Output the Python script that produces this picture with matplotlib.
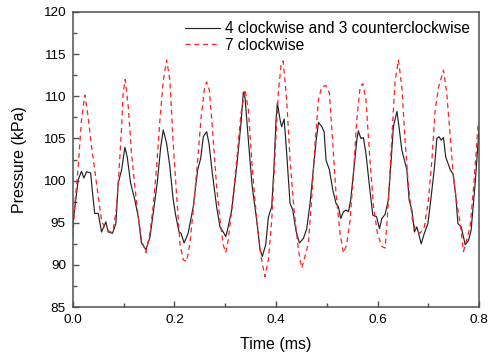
import numpy as np
import matplotlib
matplotlib.use('Agg')
import matplotlib.pyplot as plt
from matplotlib.ticker import MultipleLocator

plt.rcParams['font.family'] = ['Liberation Sans', 'DejaVu Sans']

# ── Data ─────────────────────────────────────────────────────────────────
# 4 clockwise and 3 counterclockwise (black solid)
t_mixed = [0.000, 0.0105, 0.017, 0.0217, 0.027, 0.035, 0.0388, 0.043, 0.050,
           0.0565, 0.065, 0.0696, 0.078, 0.0847, 0.0893, 0.096, 0.1025, 0.107,
           0.1137, 0.122, 0.1287, 0.135, 0.144, 0.152, 0.158, 0.166, 0.173,
           0.178, 0.1846, 0.191, 0.197, 0.202, 0.209, 0.213, 0.219, 0.227,
           0.237, 0.2457, 0.2516, 0.2568, 0.2634, 0.268, 0.2745, 0.283, 0.2897,
           0.296, 0.301, 0.305, 0.3127, 0.3225, 0.331, 0.3356, 0.339, 0.3455,
           0.353, 0.362, 0.3685, 0.373, 0.3797, 0.385, 0.3915, 0.396, 0.400,
           0.4026, 0.408, 0.411, 0.416, 0.421, 0.4276, 0.433, 0.439, 0.446,
           0.454, 0.4605, 0.467, 0.4735, 0.479, 0.4836, 0.490, 0.4946, 0.4985,
           0.505, 0.5117, 0.518, 0.5228, 0.5275, 0.5326, 0.538, 0.5425, 0.547,
           0.5537, 0.559, 0.562, 0.567, 0.572, 0.577, 0.584, 0.5905, 0.598,
           0.6036, 0.6083, 0.6148, 0.621, 0.6266, 0.631, 0.638, 0.642, 0.6477,
           0.6575, 0.662, 0.6674, 0.6725, 0.677, 0.680, 0.6857, 0.692, 0.699,
           0.7054, 0.712, 0.7166, 0.721, 0.725, 0.7297, 0.734, 0.743, 0.749,
           0.754, 0.758, 0.7645, 0.7724, 0.779, 0.784, 0.792, 0.800]
p_mixed = [94.9, 100.1, 101.1, 100.3, 101.05, 100.9, 98.5, 96.1, 96.1,
           93.9, 95.1, 93.9, 93.75, 94.9, 99.7, 101.3, 103.95, 102.8,
           99.7, 97.7, 95.7, 92.6, 91.8, 93.35, 96.1, 99.7, 104.0,
           106.0, 104.4, 101.65, 98.0, 96.0, 93.9, 93.75, 92.6, 93.75,
           96.9, 101.3, 102.6, 105.2, 105.8, 104.4, 100.9, 96.9, 94.5,
           93.9, 93.35, 94.3, 96.5, 101.65, 106.8, 110.5, 109.8, 104.8,
           99.3, 95.3, 91.8, 91.0, 92.4, 95.7, 96.9, 101.65, 107.2,
           109.2, 107.2, 106.4, 107.3, 103.2, 97.3, 96.5, 94.1, 92.6,
           93.15, 94.3, 97.3, 101.3, 104.8, 106.9, 106.4, 105.8, 102.4,
           101.3, 98.9, 97.3, 96.9, 95.5, 96.3, 96.5, 96.3, 97.7,
           101.65, 104.8, 105.9, 105.0, 105.1, 103.2, 99.3, 95.9, 95.7,
           94.3, 95.5, 96.0, 97.7, 102.4, 106.4, 108.2, 106.4, 103.6,
           101.3, 97.7, 96.5, 93.9, 94.5, 93.9, 92.5, 93.75, 94.9,
           98.1, 101.65, 105.0, 105.2, 104.8, 105.1, 102.8, 101.3, 100.7,
           98.1, 94.9, 94.5, 92.4, 92.9, 94.1, 99.7, 106.4]

# 7 clockwise (red dashed)
t_cw = [0.000, 0.004, 0.0105, 0.017, 0.0236, 0.030, 0.0368, 0.043, 0.050,
        0.0565, 0.063, 0.073, 0.0795, 0.086, 0.091, 0.096, 0.099, 0.103,
        0.109, 0.1156, 0.122, 0.1287, 0.135, 0.1438, 0.1517, 0.158, 0.165,
        0.1714, 0.178, 0.1846, 0.191, 0.1976, 0.204, 0.211, 0.2173, 0.224,
        0.2305, 0.237, 0.2457, 0.252, 0.2587, 0.2634, 0.2686, 0.2745, 0.283,
        0.2897, 0.296, 0.301, 0.306, 0.3127, 0.3225, 0.331, 0.339, 0.3455,
        0.353, 0.362, 0.3704, 0.378, 0.385, 0.3915, 0.398, 0.4045, 0.410,
        0.414, 0.421, 0.4276, 0.4355, 0.444, 0.4506, 0.457, 0.4637, 0.470,
        0.4768, 0.4834, 0.490, 0.498, 0.505, 0.5117, 0.518, 0.526, 0.5326,
        0.539, 0.5458, 0.552, 0.559, 0.5655, 0.5708, 0.577, 0.584, 0.592,
        0.5996, 0.608, 0.6148, 0.621, 0.628, 0.6345, 0.641, 0.6477, 0.654,
        0.6607, 0.6686, 0.675, 0.6837, 0.692, 0.700, 0.7068, 0.7133, 0.720,
        0.7297, 0.736, 0.743, 0.749, 0.756, 0.7626, 0.769, 0.7757, 0.782,
        0.789, 0.7975, 0.800]
p_cw = [93.35, 97.3, 101.65, 107.2, 110.15, 107.6, 104.0, 101.3, 98.1,
        95.3, 94.3, 93.9, 94.1, 96.9, 101.3, 106.4, 110.4, 112.0,
        108.8, 103.2, 99.3, 95.7, 93.0, 91.45, 93.75, 96.9, 101.65,
        107.2, 111.9, 114.3, 111.9, 104.4, 98.5, 92.4, 90.6, 90.4,
        92.6, 96.5, 102.4, 107.2, 110.75, 111.7, 110.75, 106.4, 99.3,
        95.3, 92.4, 91.45, 93.0, 96.5, 102.4, 108.0, 110.8, 108.4,
        101.65, 95.3, 91.0, 88.6, 90.6, 95.3, 103.2, 110.4, 113.8,
        114.2, 109.6, 102.4, 96.5, 91.8, 89.6, 91.0, 92.6, 97.7,
        104.4, 109.6, 111.1, 111.3, 110.4, 104.4, 98.5, 93.75, 91.4,
        92.4, 95.3, 100.5, 107.2, 111.1, 111.5, 109.6, 103.2, 96.9,
        93.75, 92.2, 92.0, 97.3, 105.2, 111.9, 114.3, 111.1, 104.8,
        99.3, 95.3, 94.1, 93.75, 94.5, 97.7, 102.4, 108.4, 111.1,
        113.1, 110.4, 105.2, 100.5, 97.3, 94.9, 91.6, 93.0, 94.5,
        99.3, 106.4, 107.0]

labels = ['4 clockwise and 3 counterclockwise', '7 clockwise']

fig = plt.figure(figsize=(4.89, 3.56), dpi=100)
ax = fig.add_axes([0.149, 0.1376, 0.831, 0.8287])

ax.plot(t_mixed, p_mixed, color='#222222', lw=0.85, label=labels[0])
ax.plot(t_cw, p_cw, color='#ff2020', lw=0.9, ls=(0, (4, 3)), label=labels[1])

ax.set_xlim(0.0, 0.8)
ax.set_ylim(85, 120)
ax.xaxis.set_major_locator(MultipleLocator(0.2))
ax.xaxis.set_minor_locator(MultipleLocator(0.1))
ax.yaxis.set_major_locator(MultipleLocator(5))
ax.yaxis.set_minor_locator(MultipleLocator(2.5))
ax.xaxis.set_major_formatter(plt.FormatStrFormatter('%.1f'))

for s in ax.spines.values():
    s.set_color('#505050')
    s.set_linewidth(1.1)
ax.tick_params(which='both', direction='in', color='#505050', width=1.0,
               labelsize=9.7, top=False, right=False)
ax.tick_params(which='major', length=4.5, pad=5)
ax.tick_params(which='minor', length=3)

ax.set_xlabel('Time (ms)', fontsize=11.5, labelpad=8)
ax.set_ylabel('Pressure (kPa)', fontsize=11.5, labelpad=12)

ax.legend(loc='upper right', frameon=False, fontsize=11.2, handlelength=2.25,
          handletextpad=0.3, borderaxespad=0.2, labelspacing=0.1)

fig.savefig('out.png', dpi=100)
